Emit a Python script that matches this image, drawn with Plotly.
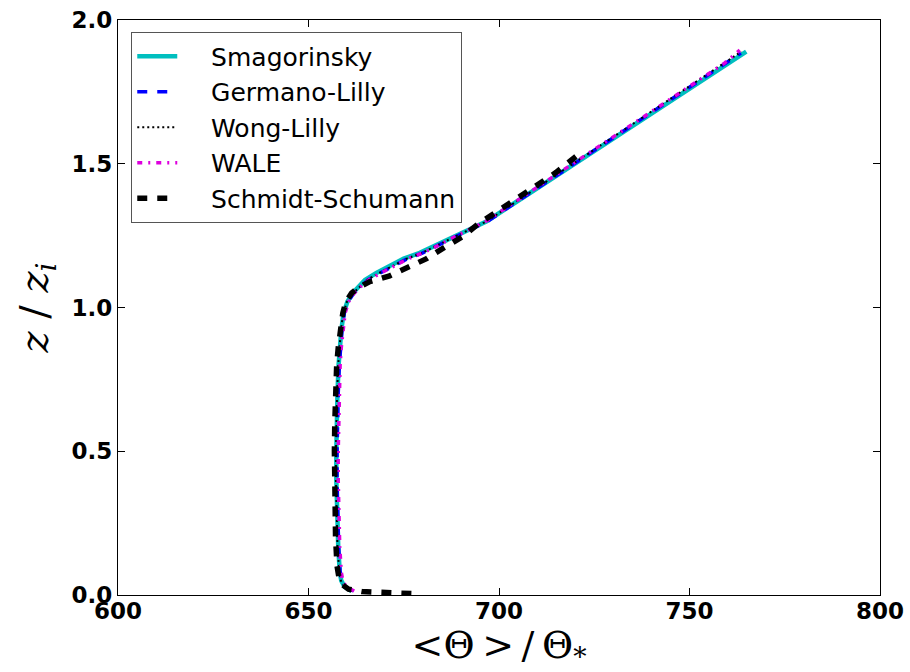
import plotly.graph_objects as go

# ---- data ----
z_smag = [0.014, 0.028, 0.05, 0.08, 0.17, 0.3, 0.4, 0.5, 0.6, 0.7, 0.8, 0.86, 0.92, 0.98,
          1.02, 1.05, 1.075, 1.096, 1.12, 1.14, 1.17, 1.19, 1.21, 1.245, 1.30, 1.36, 1.45,
          1.55, 1.65, 1.75, 1.85, 1.89]
t_smag = [661.3, 659.5, 658.6, 658.2, 657.8, 657.4, 657.3, 657.3, 657.4, 657.6, 657.9, 658.2,
          658.6, 659.2, 660.2, 661.6, 663.2, 664.8, 667.8, 670.5, 675.0, 679.2, 682.5, 687.9,
          696.8, 703.7, 714.1, 725.6, 737.1, 748.7, 760.2, 764.9]

z_germ = [0.014, 0.028, 0.05, 0.08, 0.17, 0.3, 0.4, 0.5, 0.6, 0.7, 0.8, 0.86, 0.92, 0.98,
          1.02, 1.05, 1.075, 1.096, 1.12, 1.14, 1.17, 1.19, 1.21, 1.245, 1.30, 1.36, 1.45,
          1.55, 1.65, 1.75, 1.85, 1.885]
t_germ = [661.8, 659.6, 658.7, 658.3, 657.9, 657.6, 657.5, 657.5, 657.6, 657.8, 658.1, 658.4,
          658.8, 659.4, 660.4, 661.9, 663.8, 665.6, 668.8, 671.6, 676.0, 680.0, 683.2, 688.4,
          697.0, 703.8, 714.0, 725.4, 736.8, 748.2, 759.6, 763.5]

z_wong = [0.014, 0.028, 0.05, 0.08, 0.17, 0.3, 0.4, 0.5, 0.6, 0.7, 0.8, 0.86, 0.92, 0.98,
          1.02, 1.05, 1.075, 1.096, 1.12, 1.14, 1.17, 1.19, 1.21, 1.245, 1.30, 1.36, 1.45,
          1.55, 1.65, 1.75, 1.85, 1.89]
t_wong = [661.5, 659.4, 658.5, 658.1, 657.6, 657.3, 657.2, 657.2, 657.3, 657.5, 657.8, 658.1,
          658.5, 659.1, 660.1, 661.7, 663.6, 665.4, 668.6, 671.4, 675.8, 679.8, 683.0, 688.2,
          696.8, 703.6, 713.8, 725.2, 736.6, 748.0, 759.4, 763.6]

z_wale = [0.014, 0.028, 0.05, 0.08, 0.17, 0.3, 0.4, 0.5, 0.6, 0.7, 0.8, 0.86, 0.92, 0.98,
          1.02, 1.05, 1.075, 1.096, 1.12, 1.14, 1.17, 1.19, 1.21, 1.245, 1.30, 1.36, 1.45,
          1.55, 1.65, 1.75, 1.85, 1.895]
t_wale = [662.0, 659.9, 659.0, 658.6, 658.2, 657.9, 657.8, 657.8, 657.9, 658.0, 658.3, 658.6,
          659.0, 659.6, 660.5, 662.0, 663.9, 665.8, 669.0, 671.8, 676.2, 680.0, 683.2, 688.2,
          696.6, 703.4, 713.6, 725.0, 736.4, 747.8, 759.2, 763.2]

z_schm = [0.005, 0.012, 0.02, 0.035, 0.06, 0.1, 0.2, 0.3, 0.4, 0.5, 0.6, 0.7, 0.8, 0.86,
          0.92, 0.98, 1.02, 1.05, 1.07, 1.09, 1.11, 1.14, 1.17, 1.21, 1.245, 1.29, 1.36,
          1.416, 1.47, 1.537]
t_schm = [677.0, 664.0, 660.5, 659.0, 658.0, 657.5, 657.1, 656.9, 656.8, 656.8, 656.9, 657.1,
          657.4, 657.8, 658.3, 659.0, 659.8, 661.3, 663.2, 666.1, 671.3, 676.6, 681.0, 685.8,
          690.3, 694.5, 702.6, 708.9, 715.0, 721.3]

x_ticks = [600, 650, 700, 750, 800]
x_ticktext = ["600", "650", "700", "750", "800"]
y_ticks = [0, 0.5, 1.0, 1.5, 2.0]
y_ticktext = ["0.0", "0.5", "1.0", "1.5", "2.0"]

series = [
    ("Smagorinsky", t_smag, z_smag, "#00BFBF", 4.5, "solid"),
    ("Germano-Lilly", t_germ, z_germ, "#0000FF", 3.5, "10px,10px"),
    ("Wong-Lilly", t_wong, z_wong, "#000000", 2, "2px,3px"),
    ("WALE", t_wale, z_wale, "#DD00DD", 3.5, "5px,6px,2px,6px"),
    ("Schmidt-Schumann", t_schm, z_schm, "#000000", 5.5, "10px,10px"),
]

PAD = "\u00a0\u00a0\u00a0\u2009"

fig = go.Figure()
for name, x, y, color, w, dash in series:
    fig.add_trace(go.Scatter(x=x, y=y, mode="lines", name=PAD + name,
                             line=dict(color=color, width=w, dash=dash)))

tickfont = dict(family="DejaVu Sans", size=23, color="black", weight="bold")
fig.update_layout(
    width=910, height=672,
    margin=dict(l=118, r=30, t=20, b=77),
    paper_bgcolor="white", plot_bgcolor="white",
    showlegend=True,
    legend=dict(x=0.017, y=0.979, xanchor="left", yanchor="top",
                bgcolor="white", bordercolor="#555555", borderwidth=1.3,
                font=dict(family="DejaVu Sans", size=25, color="black"),
                tracegroupgap=0, itemwidth=40),
)
fig.update_xaxes(range=[600, 800], tickvals=x_ticks, ticktext=x_ticktext,
                 automargin=False, ticklabelstandoff=-5,
                 showgrid=False, zeroline=False, showline=True, linecolor="black",
                 linewidth=1.3, mirror="allticks", ticks="inside", ticklen=7,
                 tickcolor="black", tickfont=tickfont,
                 title=dict(text="&lt;Θ\u2009&gt;\u2009/\u2009Θ<sub>*</sub>",
                            font=dict(family="DejaVu Serif", size=38, color="black"),
                            standoff=4))
fig.update_yaxes(range=[0, 2.0], tickvals=y_ticks, ticktext=y_ticktext,
                 automargin=False,
                 showgrid=False, zeroline=False, showline=True, linecolor="black",
                 linewidth=1.3, mirror="allticks", ticks="inside", ticklen=7,
                 tickcolor="black", tickfont=tickfont,
                 title=dict(text="<i>z</i> / <i>z<sub>i</sub></i>",
                            font=dict(family="DejaVu Serif", size=40, color="black"),
                            standoff=10))
fig.write_html("out.html", config={"displayModeBar": False},
               post_script="document.body.style.margin='0';")
